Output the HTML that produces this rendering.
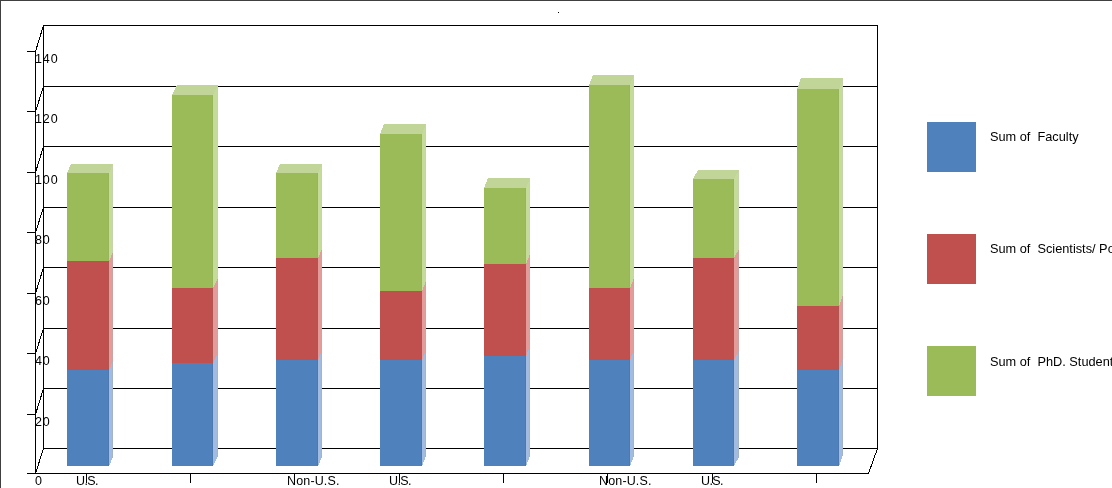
<!DOCTYPE html>
<html><head><meta charset="utf-8"><style>
html,body{margin:0;padding:0;background:#fff;}
body{-webkit-font-smoothing:antialiased;width:1112px;height:488px;position:relative;overflow:hidden;font-family:"Liberation Sans",sans-serif;}
.frame{position:absolute;left:0;top:0;width:1112px;height:488px;border-left:1px solid #404040;border-top:1px solid #404040;box-sizing:border-box;}
svg{position:absolute;left:0;top:0;}
.yl{position:absolute;left:35px;font-size:12.5px;line-height:13px;color:#000;letter-spacing:0.9px;will-change:transform;}
.cl{position:absolute;top:475px;font-size:12.5px;line-height:13px;color:#000;white-space:pre;will-change:transform;}
.lg{position:absolute;left:927px;width:49px;height:50px;}
.lt{position:absolute;left:990px;font-size:12.75px;line-height:13px;color:#000;white-space:pre;will-change:transform;}
</style></head><body>
<div class="frame"></div>
<svg width="1112" height="488" viewBox="0 0 1112 488">
<g stroke="#000" stroke-width="1" fill="none" shape-rendering="crispEdges">
<line x1="43" y1="448.5" x2="878" y2="448.5" />
<line x1="43" y1="388.5" x2="878" y2="388.5" />
<line x1="43" y1="328.5" x2="878" y2="328.5" />
<line x1="43" y1="267.5" x2="878" y2="267.5" />
<line x1="43" y1="207.5" x2="878" y2="207.5" />
<line x1="43" y1="146.5" x2="878" y2="146.5" />
<line x1="43" y1="86.5" x2="878" y2="86.5" />
<line x1="43" y1="25.5" x2="878" y2="25.5" />
<line x1="43.5" y1="25" x2="43.5" y2="449" />
<line x1="877.5" y1="25" x2="877.5" y2="449" />
<line x1="35.5" y1="51" x2="35.5" y2="474" />
<line x1="43.5" y1="448.5" x2="35.5" y2="473.5" />
<line x1="43.5" y1="388.5" x2="35.5" y2="414.5" />
<line x1="43.5" y1="328.5" x2="35.5" y2="353.5" />
<line x1="43.5" y1="267.5" x2="35.5" y2="293.5" />
<line x1="43.5" y1="207.5" x2="35.5" y2="232.5" />
<line x1="43.5" y1="146.5" x2="35.5" y2="172.5" />
<line x1="43.5" y1="86.5" x2="35.5" y2="111.5" />
<line x1="43.5" y1="25.5" x2="35.5" y2="51.5" />
<line x1="27" y1="414.5" x2="36" y2="414.5" />
<line x1="27" y1="353.5" x2="36" y2="353.5" />
<line x1="27" y1="293.5" x2="36" y2="293.5" />
<line x1="27" y1="232.5" x2="36" y2="232.5" />
<line x1="27" y1="172.5" x2="36" y2="172.5" />
<line x1="27" y1="111.5" x2="36" y2="111.5" />
<line x1="27" y1="51.5" x2="36" y2="51.5" />
<line x1="27" y1="473.5" x2="869" y2="473.5" />
<line x1="877.5" y1="448.5" x2="868.5" y2="473.5" />
<line x1="86.5" y1="474" x2="86.5" y2="483" />
<line x1="190.5" y1="474" x2="190.5" y2="483" />
<line x1="294.5" y1="474" x2="294.5" y2="483" />
<line x1="399.5" y1="474" x2="399.5" y2="483" />
<line x1="503.5" y1="474" x2="503.5" y2="483" />
<line x1="607.5" y1="474" x2="607.5" y2="483" />
<line x1="712.5" y1="474" x2="712.5" y2="483" />
<line x1="816.5" y1="474" x2="816.5" y2="483" />
</g>
<g shape-rendering="crispEdges">
<rect x="67" y="173" width="42" height="88" fill="#9BBB59"/>
<rect x="108" y="173" width="1" height="88" fill="#97B65A"/>
<polygon points="109,173 113,164 113,252 109,261" fill="#C4DB9A"/>
<polygon points="112,166.25 113,164 113,252 112,254.25" fill="#C6D4AE"/>
<rect x="67" y="261" width="42" height="109" fill="#C0504D"/>
<rect x="108" y="261" width="1" height="109" fill="#B05552"/>
<polygon points="109,261 113,252 113,361 109,370" fill="#E39C9A"/>
<polygon points="112,254.25 113,252 113,361 112,363.25" fill="#CFA2A2"/>
<rect x="67" y="370" width="42" height="96" fill="#4F81BD"/>
<rect x="108" y="370" width="1" height="96" fill="#4B79B0"/>
<polygon points="109,370 113,361 113,457 109,466" fill="#A1BCE0"/>
<polygon points="112,363.25 113,361 113,457 112,459.25" fill="#A2B3CB"/>
<polygon points="67,173 71,164 113,164 109,173" fill="#C0D597"/>
<rect x="172" y="95" width="41" height="193" fill="#9BBB59"/>
<rect x="212" y="95" width="1" height="193" fill="#97B65A"/>
<polygon points="213,95 218,85 218,278 213,288" fill="#C4DB9A"/>
<polygon points="217,87.00 218,85 218,278 217,280.00" fill="#C6D4AE"/>
<rect x="172" y="288" width="41" height="75" fill="#C0504D"/>
<rect x="212" y="288" width="1" height="75" fill="#B05552"/>
<polygon points="213,288 218,278 218,353 213,363" fill="#E39C9A"/>
<polygon points="217,280.00 218,278 218,353 217,355.00" fill="#CFA2A2"/>
<rect x="172" y="363" width="41" height="103" fill="#4F81BD"/>
<rect x="212" y="363" width="1" height="103" fill="#4B79B0"/>
<polygon points="213,363 218,353 218,456 213,466" fill="#A1BCE0"/>
<polygon points="217,355.00 218,353 218,456 217,458.00" fill="#A2B3CB"/>
<polygon points="172,95 177,85 218,85 213,95" fill="#C0D597"/>
<rect x="276" y="173" width="42" height="85" fill="#9BBB59"/>
<rect x="317" y="173" width="1" height="85" fill="#97B65A"/>
<polygon points="318,173 322,164 322,249 318,258" fill="#C4DB9A"/>
<polygon points="321,166.25 322,164 322,249 321,251.25" fill="#C6D4AE"/>
<rect x="276" y="258" width="42" height="102" fill="#C0504D"/>
<rect x="317" y="258" width="1" height="102" fill="#B05552"/>
<polygon points="318,258 322,249 322,351 318,360" fill="#E39C9A"/>
<polygon points="321,251.25 322,249 322,351 321,353.25" fill="#CFA2A2"/>
<rect x="276" y="360" width="42" height="106" fill="#4F81BD"/>
<rect x="317" y="360" width="1" height="106" fill="#4B79B0"/>
<polygon points="318,360 322,351 322,457 318,466" fill="#A1BCE0"/>
<polygon points="321,353.25 322,351 322,457 321,459.25" fill="#A2B3CB"/>
<polygon points="276,173 280,164 322,164 318,173" fill="#C0D597"/>
<rect x="380" y="134" width="42" height="157" fill="#9BBB59"/>
<rect x="421" y="134" width="1" height="157" fill="#97B65A"/>
<polygon points="422,134 426,124 426,281 422,291" fill="#C4DB9A"/>
<polygon points="425,126.50 426,124 426,281 425,283.50" fill="#C6D4AE"/>
<rect x="380" y="291" width="42" height="69" fill="#C0504D"/>
<rect x="421" y="291" width="1" height="69" fill="#B05552"/>
<polygon points="422,291 426,281 426,350 422,360" fill="#E39C9A"/>
<polygon points="425,283.50 426,281 426,350 425,352.50" fill="#CFA2A2"/>
<rect x="380" y="360" width="42" height="106" fill="#4F81BD"/>
<rect x="421" y="360" width="1" height="106" fill="#4B79B0"/>
<polygon points="422,360 426,350 426,456 422,466" fill="#A1BCE0"/>
<polygon points="425,352.50 426,350 426,456 425,458.50" fill="#A2B3CB"/>
<polygon points="380,134 384,124 426,124 422,134" fill="#C0D597"/>
<rect x="484" y="188" width="42" height="76" fill="#9BBB59"/>
<rect x="525" y="188" width="1" height="76" fill="#97B65A"/>
<polygon points="526,188 530,178 530,254 526,264" fill="#C4DB9A"/>
<polygon points="529,180.50 530,178 530,254 529,256.50" fill="#C6D4AE"/>
<rect x="484" y="264" width="42" height="92" fill="#C0504D"/>
<rect x="525" y="264" width="1" height="92" fill="#B05552"/>
<polygon points="526,264 530,254 530,346 526,356" fill="#E39C9A"/>
<polygon points="529,256.50 530,254 530,346 529,348.50" fill="#CFA2A2"/>
<rect x="484" y="356" width="42" height="110" fill="#4F81BD"/>
<rect x="525" y="356" width="1" height="110" fill="#4B79B0"/>
<polygon points="526,356 530,346 530,456 526,466" fill="#A1BCE0"/>
<polygon points="529,348.50 530,346 530,456 529,458.50" fill="#A2B3CB"/>
<polygon points="484,188 488,178 530,178 526,188" fill="#C0D597"/>
<rect x="589" y="85" width="41" height="203" fill="#9BBB59"/>
<rect x="629" y="85" width="1" height="203" fill="#97B65A"/>
<polygon points="630,85 634,75 634,278 630,288" fill="#C4DB9A"/>
<polygon points="633,77.50 634,75 634,278 633,280.50" fill="#C6D4AE"/>
<rect x="589" y="288" width="41" height="72" fill="#C0504D"/>
<rect x="629" y="288" width="1" height="72" fill="#B05552"/>
<polygon points="630,288 634,278 634,350 630,360" fill="#E39C9A"/>
<polygon points="633,280.50 634,278 634,350 633,352.50" fill="#CFA2A2"/>
<rect x="589" y="360" width="41" height="106" fill="#4F81BD"/>
<rect x="629" y="360" width="1" height="106" fill="#4B79B0"/>
<polygon points="630,360 634,350 634,456 630,466" fill="#A1BCE0"/>
<polygon points="633,352.50 634,350 634,456 633,458.50" fill="#A2B3CB"/>
<polygon points="589,85 593,75 634,75 630,85" fill="#C0D597"/>
<rect x="693" y="179" width="41" height="79" fill="#9BBB59"/>
<rect x="733" y="179" width="1" height="79" fill="#97B65A"/>
<polygon points="734,179 739,170 739,249 734,258" fill="#C4DB9A"/>
<polygon points="738,171.80 739,170 739,249 738,250.80" fill="#C6D4AE"/>
<rect x="693" y="258" width="41" height="102" fill="#C0504D"/>
<rect x="733" y="258" width="1" height="102" fill="#B05552"/>
<polygon points="734,258 739,249 739,351 734,360" fill="#E39C9A"/>
<polygon points="738,250.80 739,249 739,351 738,352.80" fill="#CFA2A2"/>
<rect x="693" y="360" width="41" height="106" fill="#4F81BD"/>
<rect x="733" y="360" width="1" height="106" fill="#4B79B0"/>
<polygon points="734,360 739,351 739,457 734,466" fill="#A1BCE0"/>
<polygon points="738,352.80 739,351 739,457 738,458.80" fill="#A2B3CB"/>
<polygon points="693,179 698,170 739,170 734,179" fill="#C0D597"/>
<rect x="797" y="89" width="42" height="217" fill="#9BBB59"/>
<rect x="838" y="89" width="1" height="217" fill="#97B65A"/>
<polygon points="839,89 843,78 843,295 839,306" fill="#C4DB9A"/>
<polygon points="842,80.75 843,78 843,295 842,297.75" fill="#C6D4AE"/>
<rect x="797" y="306" width="42" height="64" fill="#C0504D"/>
<rect x="838" y="306" width="1" height="64" fill="#B05552"/>
<polygon points="839,306 843,295 843,359 839,370" fill="#E39C9A"/>
<polygon points="842,297.75 843,295 843,359 842,361.75" fill="#CFA2A2"/>
<rect x="797" y="370" width="42" height="96" fill="#4F81BD"/>
<rect x="838" y="370" width="1" height="96" fill="#4B79B0"/>
<polygon points="839,370 843,359 843,455 839,466" fill="#A1BCE0"/>
<polygon points="842,361.75 843,359 843,455 842,457.75" fill="#A2B3CB"/>
<polygon points="797,89 801,78 843,78 839,89" fill="#C0D597"/>
</g>
<rect x="558" y="12" width="1" height="1" fill="#000"/>
</svg>
<div class="yl" style="top:475px">0</div>
<div class="yl" style="top:416px">20</div>
<div class="yl" style="top:355px">40</div>
<div class="yl" style="top:295px">60</div>
<div class="yl" style="top:234px">80</div>
<div class="yl" style="top:174px">100</div>
<div class="yl" style="top:113px">120</div>
<div class="yl" style="top:53px">140</div>
<div class="cl" style="left:76px;letter-spacing:-0.6px">U.S.</div>
<div class="cl" style="left:287px;letter-spacing:0.15px">Non-U.S.</div>
<div class="cl" style="left:389px;letter-spacing:-0.6px">U.S.</div>
<div class="cl" style="left:599px;letter-spacing:0.15px">Non-U.S.</div>
<div class="cl" style="left:701px;letter-spacing:-0.6px">U.S.</div>
<div class="lg" style="top:122px;background:#4F81BD"></div>
<div class="lg" style="top:234px;background:#C0504D"></div>
<div class="lg" style="top:346px;background:#9BBB59"></div>
<div class="lt" style="top:130px">Sum of  Faculty</div>
<div class="lt" style="top:242px">Sum of  Scientists/ Postdocs</div>
<div class="lt" style="top:355px">Sum of  PhD. Students</div>
</body></html>
